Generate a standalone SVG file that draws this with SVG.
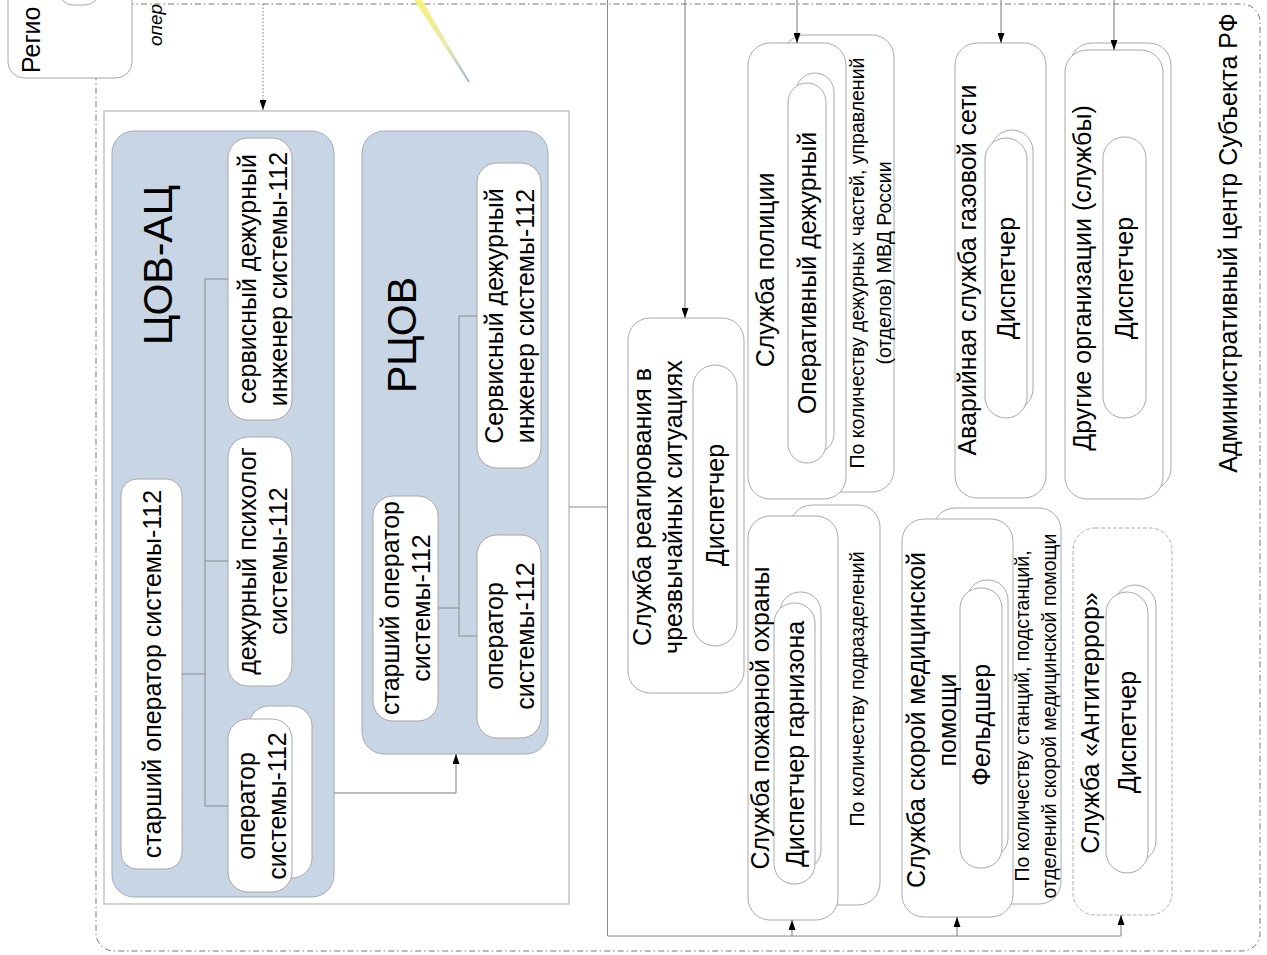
<svg xmlns="http://www.w3.org/2000/svg" width="1267" height="955" viewBox="0 0 1267 955">
<defs>
<style>
.t{font-family:"Liberation Sans",Arial,sans-serif;font-size:25px;fill:#000;text-anchor:middle}
.h{font-size:41px}
.s{font-size:19.5px}
.box{fill:#fff;stroke:#a8a8a8;stroke-width:1}
.blue{fill:#c8d5e4;stroke:#9eacbe;stroke-width:1}
.ln{fill:none;stroke:#8a8a8a;stroke-width:1}
.arr{fill:none;stroke:#7a7a7a;stroke-width:1;marker-end:url(#ah)}
</style>
<marker id="ah" viewBox="0 0 10 7" refX="10" refY="3.5" markerWidth="10" markerHeight="7" orient="auto" markerUnits="userSpaceOnUse"><path d="M0,0L10,3.5L0,7z" fill="#000"/></marker>
<linearGradient id="wedge" x1="0" y1="0" x2="0" y2="1"><stop offset="0" stop-color="#f7f27a"/><stop offset="0.6" stop-color="#e6e9ae"/><stop offset="1" stop-color="#9fb2d6"/></linearGradient>
</defs>
<rect width="1267" height="955" fill="#fff"/>

<g id="admin-center">
<rect x="96" y="4" width="1164" height="947" rx="18" fill="none" stroke="#777" stroke-dasharray="6 3 1.5 3"/>
<text class="t" transform="translate(1228,243) rotate(-90)" y="9">Административный центр Субъекта РФ</text>
</g>

<polygon id="beam" points="414,0 422,0 470,82 468,82" fill="url(#wedge)"/>

<g id="region">
<rect x="8" y="-30" width="124" height="108" rx="16" class="box"/>
<rect x="59" y="-35" width="40" height="40" rx="14" class="box"/>
<text class="t" style="text-anchor:start" transform="translate(40,73) rotate(-90)">Регио</text>
</g>
<text id="oper-label" class="t" style="text-anchor:start;font-style:italic;font-size:19px" transform="translate(162,46) rotate(-90)">опер</text>

<g id="center-box">
<rect x="104" y="111" width="465" height="793" fill="#fff" stroke="#c4c4c4" stroke-width="1.5"/>
</g>

<g id="tsov-ac">
<rect x="112" y="131" width="222" height="766" rx="22" class="blue"/>
<text class="t h" transform="translate(158,265) rotate(-90)" y="14">ЦОВ-АЦ</text>
</g>
<g id="tsov-senior">
<rect x="121" y="479" width="61" height="390" rx="16" class="box"/>
<text class="t" transform="translate(151.5,674) rotate(-90)" y="9">старший оператор системы-112</text>
</g>
<g id="tsov-service">
<rect x="228" y="138" width="64" height="282" rx="20" class="box"/>
<text class="t" transform="translate(262,279) rotate(-90)"><tspan x="0" y="-6.5">сервисный дежурный</tspan><tspan x="0" y="24.5">инженер системы-112</tspan></text>
</g>
<g id="tsov-psych">
<rect x="228" y="437" width="64" height="249" rx="20" class="box"/>
<text class="t" transform="translate(262,561) rotate(-90)"><tspan x="0" y="-6.5">дежурный психолог</tspan><tspan x="0" y="24.5">системы-112</tspan></text>
</g>
<g id="tsov-operator">
<rect x="249" y="706" width="63" height="172" rx="20" class="box"/>
<rect x="228" y="719" width="64" height="173" rx="20" class="box"/>
<text class="t" transform="translate(261,806) rotate(-90)"><tspan x="0" y="-6.5">оператор</tspan><tspan x="0" y="24.5">системы-112</tspan></text>
</g>

<g id="rtsov">
<rect x="362" y="131" width="186" height="623" rx="22" class="blue"/>
<text class="t h" transform="translate(402,335) rotate(-90)" y="14">РЦОВ</text>
</g>
<g id="rtsov-service">
<rect x="477" y="163" width="64" height="305" rx="20" class="box"/>
<text class="t" transform="translate(509,316) rotate(-90)"><tspan x="0" y="-6.5">Сервисный дежурный</tspan><tspan x="0" y="24.5">инженер системы-112</tspan></text>
</g>
<g id="rtsov-senior">
<rect x="373" y="496" width="65" height="225" rx="20" class="box"/>
<text class="t" transform="translate(405,608) rotate(-90)"><tspan x="0" y="-6.5">старший оператор</tspan><tspan x="0" y="24.5">системы-112</tspan></text>
</g>
<g id="rtsov-operator">
<rect x="477" y="535" width="64" height="203" rx="20" class="box"/>
<text class="t" transform="translate(509,636) rotate(-90)"><tspan x="0" y="-6.5">оператор</tspan><tspan x="0" y="24.5">системы-112</tspan></text>
</g>

<g id="emergency">
<rect x="628" y="318" width="116" height="375" rx="22" class="box"/>
<rect x="693" y="365" width="44" height="281" rx="22" class="box"/>
<text class="t" transform="translate(657,507) rotate(-90)"><tspan x="0" y="-6.5">Служба реагирования в</tspan><tspan x="0" y="24.5">чрезвычайных ситуациях</tspan></text>
<text class="t" transform="translate(715,505) rotate(-90)" y="9">Диспетчер</text>
</g>

<g id="police">
<rect x="783" y="35" width="111" height="457" rx="22" class="box"/>
<rect x="748" y="43" width="98" height="456" rx="22" class="box"/>
<rect x="796" y="73" width="38" height="380" rx="19" class="box"/>
<rect x="788" y="83" width="38" height="380" rx="19" class="box"/>
<text class="t" transform="translate(765,270) rotate(-90)" y="9">Служба полиции</text>
<text class="t" transform="translate(807,273) rotate(-90)" y="9">Оперативный дежурный</text>
<text class="t s" transform="translate(870,263) rotate(-90)"><tspan x="0" y="-6.5">По количеству дежурных частей, управлений</tspan><tspan x="0" y="20.5">(отделов) МВД России</tspan></text>
</g>

<g id="gas">
<rect x="955" y="43" width="91" height="455" rx="22" class="box"/>
<rect x="991" y="130" width="42" height="280" rx="21" class="box"/>
<rect x="985" y="138" width="42" height="280" rx="21" class="box"/>
<text class="t" transform="translate(967,270) rotate(-90)" y="9">Аварийная служба газовой сети</text>
<text class="t" transform="translate(1006,278) rotate(-90)" y="9">Диспетчер</text>
</g>

<g id="other">
<rect x="1070" y="43" width="101" height="447" rx="22" class="box"/>
<rect x="1065" y="50" width="98" height="449" rx="22" class="box"/>
<rect x="1103" y="137" width="43" height="281" rx="21" class="box"/>
<text class="t" transform="translate(1082,278) rotate(-90)" y="9">Другие организации (службы)</text>
<text class="t" transform="translate(1124,278) rotate(-90)" y="9">Диспетчер</text>
</g>

<g id="fire">
<rect x="790" y="505" width="90" height="400" rx="22" class="box"/>
<rect x="748" y="516" width="90" height="404" rx="22" class="box"/>
<rect x="780" y="592" width="41" height="278" rx="20" class="box"/>
<rect x="774" y="603" width="41" height="281" rx="20" class="box"/>
<text class="t" transform="translate(760,718) rotate(-90)" y="9">Служба пожарной охраны</text>
<text class="t" transform="translate(795,744) rotate(-90)" y="9">Диспетчер гарнизона</text>
<text class="t s" transform="translate(857,689) rotate(-90)" y="7">По количеству подразделений</text>
</g>

<g id="ambulance">
<rect x="933" y="508" width="128" height="396" rx="22" class="box"/>
<rect x="902" y="519" width="111" height="398" rx="22" class="box"/>
<rect x="967" y="580" width="41" height="278" rx="20" class="box"/>
<rect x="960" y="588" width="42" height="280" rx="20" class="box"/>
<text class="t" transform="translate(931,720) rotate(-90)"><tspan x="0" y="-6.5">Служба скорой медицинской</tspan><tspan x="0" y="24.5">помощи</tspan></text>
<text class="t" transform="translate(981,725) rotate(-90)" y="9">Фельдшер</text>
<text class="t s" transform="translate(1035,716) rotate(-90)"><tspan x="0" y="-6.5">По количеству станций, подстанций,</tspan><tspan x="0" y="20.5">отделений скорой медицинской помощи</tspan></text>
</g>

<g id="antiterror">
<rect x="1073" y="528" width="99" height="387" rx="22" fill="#fff" stroke="#b0b0b0" stroke-dasharray="4 2"/>
<rect x="1114" y="585" width="42" height="277" rx="21" class="box"/>
<rect x="1106" y="592" width="42" height="281" rx="21" class="box"/>
<text class="t" transform="translate(1090,723) rotate(-90)" y="9">Служба «Антитеррор»</text>
<text class="t" transform="translate(1127,732) rotate(-90)" y="9">Диспетчер</text>
</g>

<g id="connectors">
<path class="ln" d="M182,674H205M205,279V806M205,279H228M205,561H228M205,806H228"/>
<path class="ln" d="M459,316V636M459,316H477M438,608H459M459,636H477"/>
<path class="arr" d="M334,793H456V754"/>
<path class="ln" d="M569,507H607.5M607.5,0V936H1121"/>
<path class="arr" d="M792,936V920"/>
<path class="arr" d="M957,936V917"/>
<path class="arr" d="M1121,936V915"/>
<path class="arr" d="M685,0V318"/>
<path class="arr" d="M797,0V43"/>
<path class="arr" d="M1001,0V43"/>
<path class="arr" d="M1114,0V50"/>
<path class="arr" d="M263,4V110" stroke-dasharray="1.5 2"/>
</g>
</svg>
